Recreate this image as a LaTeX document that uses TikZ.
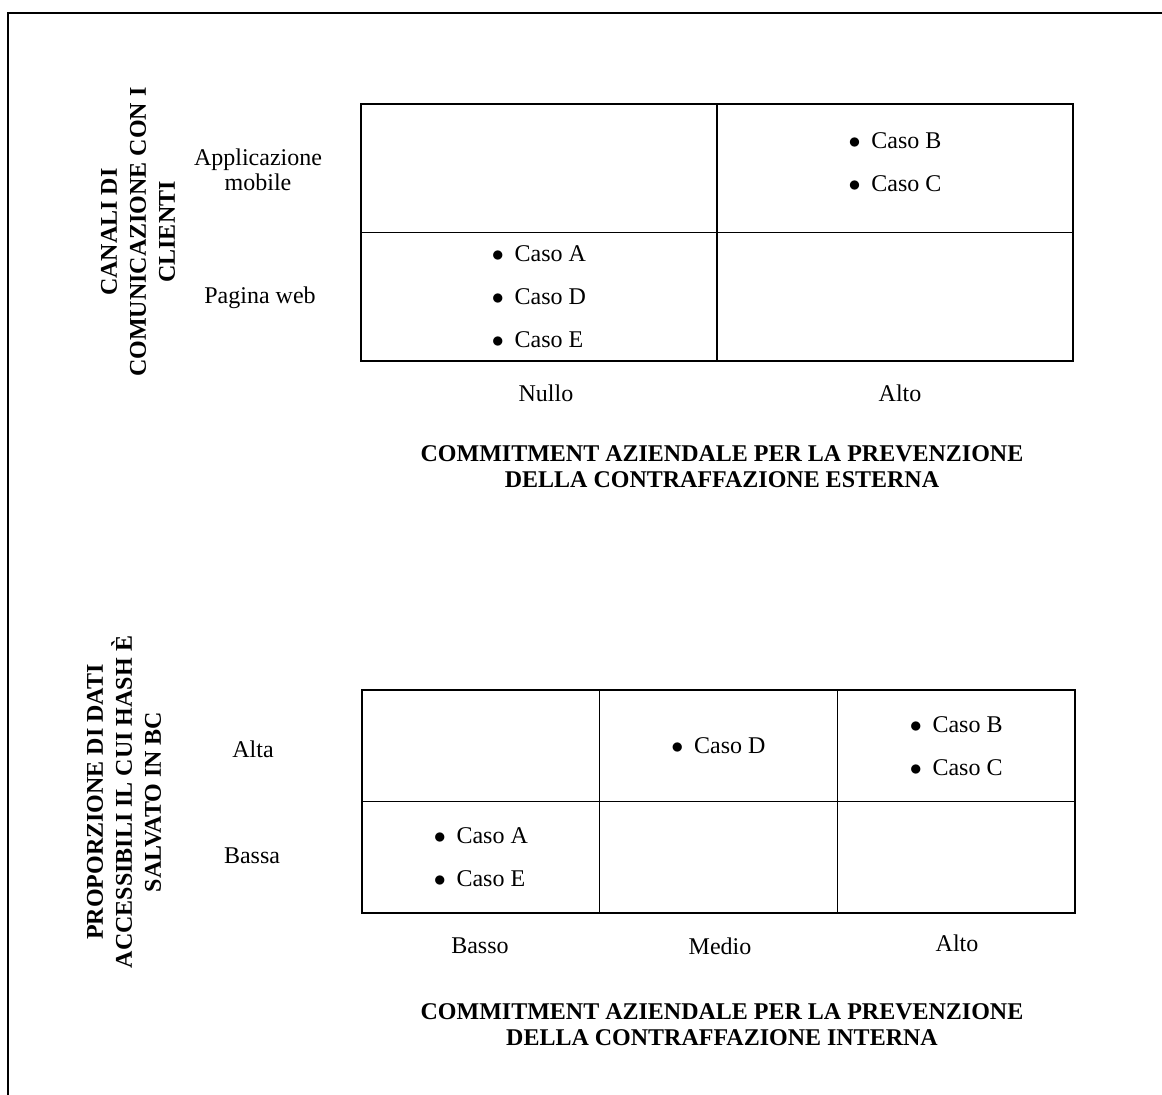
\documentclass[tikz,border=0pt]{standalone}
\usepackage{fontspec}
\setmainfont{Liberation Serif}
\usepackage{tikz}
\usetikzlibrary{positioning}

\newcommand{\caso}[1]{$\bullet$\hspace{0.45em}Caso #1}

\begin{document}
\begin{tikzpicture}[x=0.5pt,y=-0.5pt]
  \tikzstyle{bigcell}=[rectangle, draw, line width=0.8pt, outer sep=0pt, inner sep=0pt,
                       minimum width=178pt, minimum height=64.25pt, align=left,
                       font=\fontsize{12}{21.5}\selectfont]
  \tikzstyle{smallcell}=[bigcell, minimum width=118.83pt, minimum height=55.75pt]
  \tikzstyle{axislabel}=[align=center, font=\fontsize{12}{12.5}\selectfont]
  \tikzstyle{axistitle}=[align=center, font=\fontsize{12}{13}\selectfont\bfseries]
  \tikzstyle{sidetitle}=[align=center, rotate=90, font=\fontsize{12}{14.5}\selectfont\bfseries]
  \useasboundingbox (0,0) rectangle (1162,1095);
  \draw [line width=1pt] (8,1095) -- (8,13) -- (1162,13);
  % matrice esterna
  \node[bigcell, anchor=north west] (Mobile Nullo) at (361,104) {};
  \node[bigcell, right=0pt of Mobile Nullo, text depth=6pt] (Mobile Alto) {\caso{B}\\
                                                                            \caso{C}};
  \node[bigcell, below=0pt of Mobile Nullo] (Web Nullo) {\caso{A}\\
                                                         \caso{D}\\
                                                         \caso{E}};
  \node[bigcell, right=0pt of Web Nullo] (Web Alto) {};
  \node[axislabel] (Mobile) at (258,170) {Applicazione\\mobile};
  \node[axislabel] (Web) at (260,298) {Pagina web};
  \node[axislabel] (Nullo) at (546,393) {Nullo};
  \node[axislabel] (Alto Est) at (900,393) {Alto};
  \node[sidetitle] (Canali) at (138,232) {CANALI DI\\COMUNICAZIONE CON I\\CLIENTI};
  \node[axistitle] (Esterna) at (722,467) {COMMITMENT AZIENDALE PER LA PREVENZIONE\\
                                           DELLA CONTRAFFAZIONE ESTERNA};
  % matrice interna
  \node[smallcell, anchor=north west] (Alta Basso) at (362,690) {};
  \node[smallcell, right=0pt of Alta Basso] (Alta Medio) {\caso{D}};
  \node[smallcell, right=0pt of Alta Medio] (Alta Alto) {\caso{B}\\
                                                         \caso{C}};
  \node[smallcell, below=0pt of Alta Basso] (Bassa Basso) {\caso{A}\\
                                                           \caso{E}};
  \node[smallcell, right=0pt of Bassa Basso] (Bassa Medio) {};
  \node[smallcell, right=0pt of Bassa Medio] (Bassa Alto) {};
  \node[axislabel] (Alta) at (253,749) {Alta};
  \node[axislabel] (Bassa) at (252,856) {Bassa};
  \node[axislabel] (Basso) at (480,946) {Basso};
  \node[axislabel] (Medio) at (720,946) {Medio};
  \node[axislabel] (Alto Int) at (957,943) {Alto};
  \node[sidetitle] (Proporzione) at (124,802) {PROPORZIONE DI DATI\\ACCESSIBILI IL CUI HASH È\\SALVATO IN BC};
  \node[axistitle] (Interna) at (722,1025) {COMMITMENT AZIENDALE PER LA PREVENZIONE\\
                                             DELLA CONTRAFFAZIONE INTERNA};
\end{tikzpicture}
\end{document}
